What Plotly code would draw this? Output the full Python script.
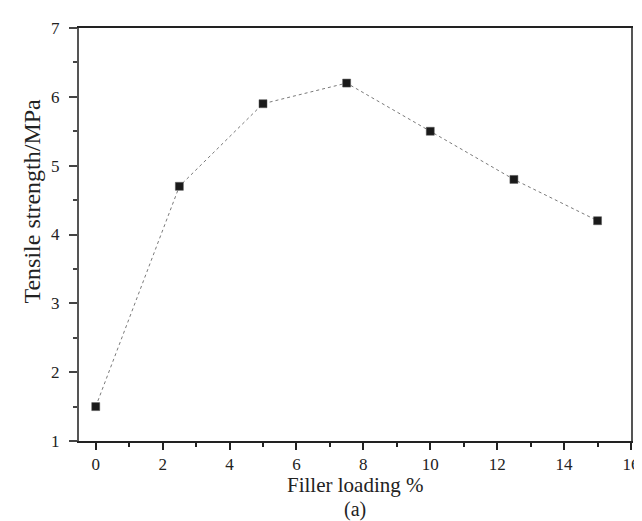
import plotly.graph_objects as go

filler_loading = [0, 2.5, 5, 7.5, 10, 12.5, 15]
tensile_strength = [1.5, 4.7, 5.9, 6.2, 5.5, 4.8, 4.2]

x_title = "Filler loading %"
y_title = "Tensile strength/MPa"
sub_label = "(a)"

font_family = "Liberation Serif, Times New Roman, serif"
text_color = "#222222"

fig = go.Figure()
fig.add_trace(go.Scatter(
    x=filler_loading, y=tensile_strength,
    mode="lines+markers",
    line=dict(color="#7a7a7a", width=1, dash="dot"),
    marker=dict(symbol="square", size=8, color="#1a1a1a", line=dict(color="#555555", width=0.5)),
    showlegend=False,
))

fig.update_xaxes(
    range=[-0.5, 16], tick0=0, dtick=2,
    showline=True, linecolor="#222222", linewidth=2, mirror=True,
    ticks="outside", ticklen=7, tickwidth=1.5, tickcolor="#222222",
    minor=dict(ticks="outside", ticklen=4, tickwidth=1.5, tickcolor="#222222", dtick=1, tick0=0),
    showgrid=False, zeroline=False,
    tickfont=dict(family=font_family, size=17, color=text_color),
    ticklabelstandoff=0,
)
fig.update_yaxes(
    range=[1, 7], tick0=1, dtick=1,
    showline=True, linecolor="#555555", linewidth=2, mirror=True,
    ticks="outside", ticklen=8, tickwidth=1.5, tickcolor="#444444",
    minor=dict(ticks="outside", ticklen=4, tickwidth=1.5, tickcolor="#444444", dtick=0.5, tick0=1),
    showgrid=False, zeroline=False,
    tickfont=dict(family=font_family, size=17, color=text_color),
    ticklabelstandoff=6,
)

fig.add_annotation(
    text=x_title, xref="paper", yref="paper", x=0.5, y=-0.1065,
    showarrow=False, xanchor="center", yanchor="middle", borderpad=0,
    font=dict(family=font_family, size=21, color=text_color),
)
fig.add_annotation(
    text=sub_label, xref="paper", yref="paper", x=0.5, y=-0.167,
    showarrow=False, xanchor="center", yanchor="middle", borderpad=0,
    font=dict(family=font_family, size=20, color=text_color),
)
fig.add_annotation(
    text=y_title, xref="paper", yref="paper", x=-0.085, y=0.58,
    showarrow=False, xanchor="center", yanchor="middle", textangle=-90, borderpad=0,
    font=dict(family=font_family, size=24, color=text_color),
)

fig.update_layout(
    width=642, height=521,
    margin=dict(l=71, r=10, t=20, b=88),
    plot_bgcolor="white", paper_bgcolor="white",
)

fig.write_html("out.html")
